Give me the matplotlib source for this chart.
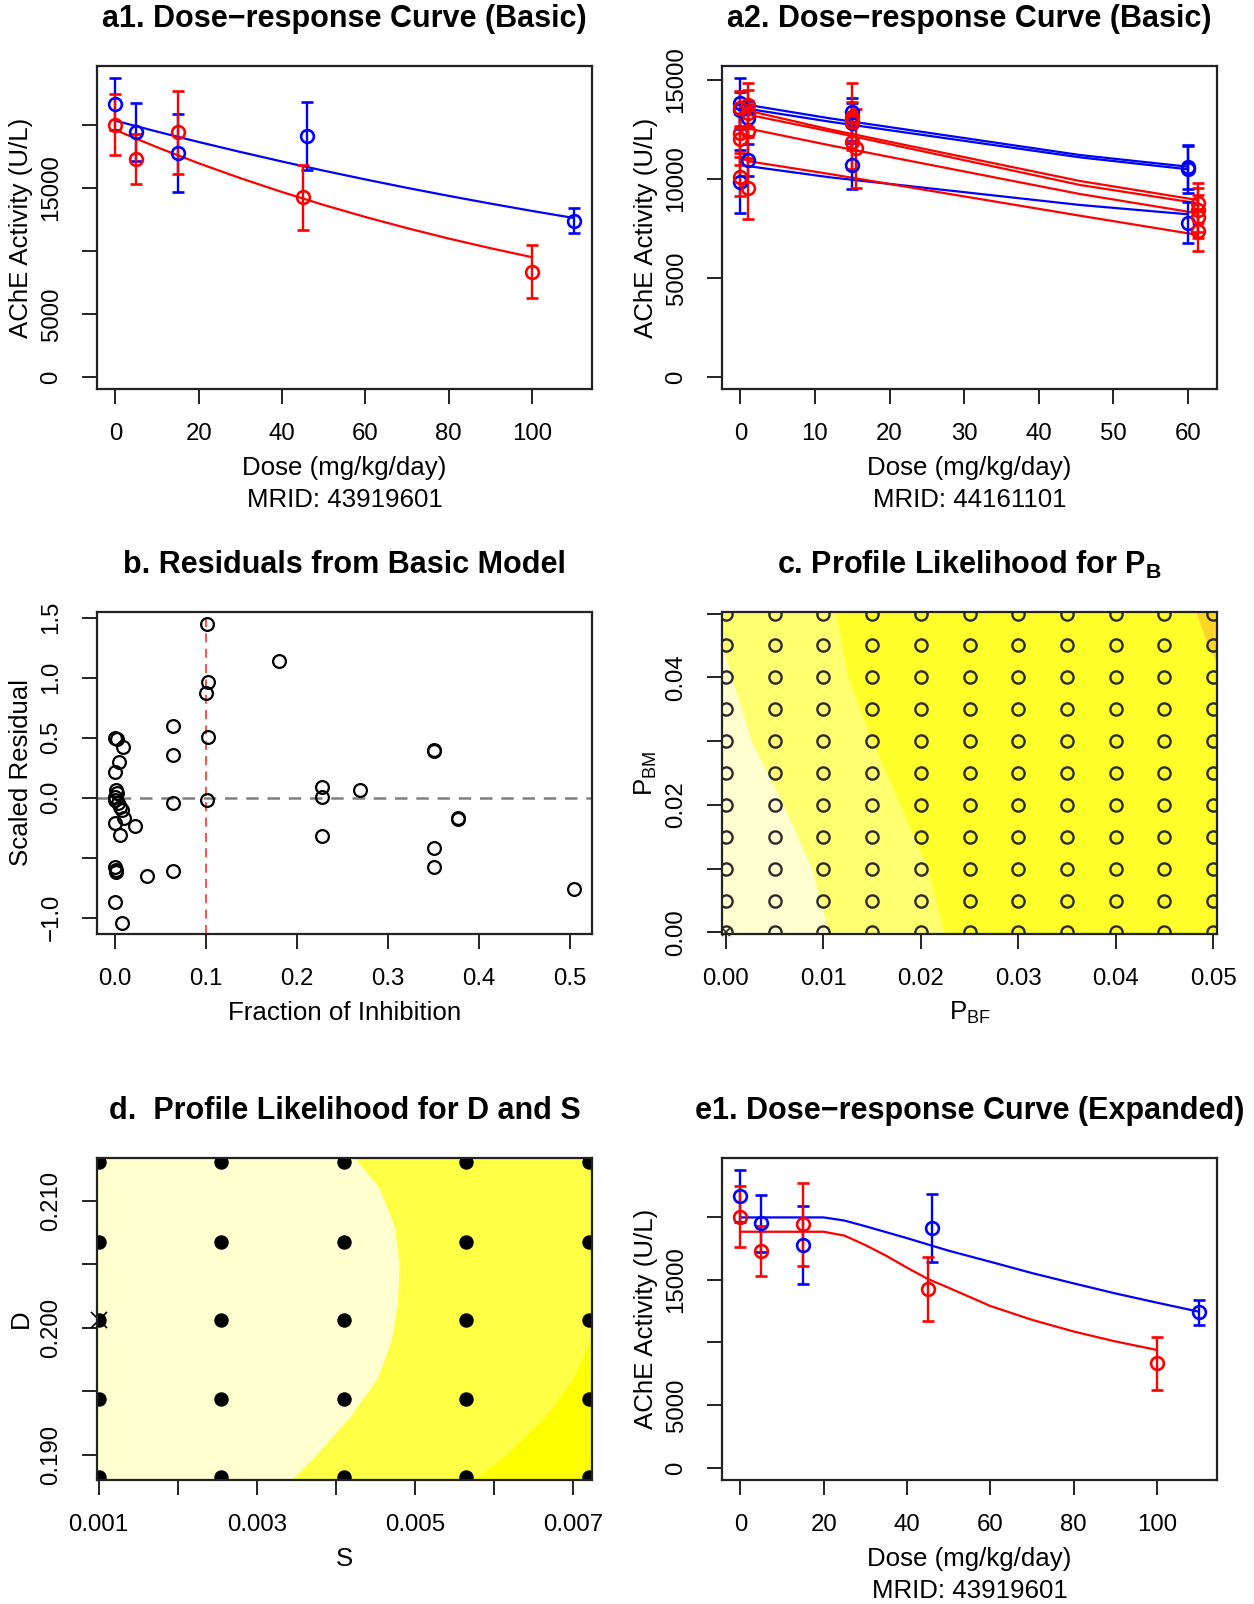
import numpy as np
import matplotlib
matplotlib.use('Agg')
import matplotlib.pyplot as plt

plt.rcParams['font.family'] = ['Liberation Sans', 'DejaVu Sans']
plt.rcParams['mathtext.fontset'] = 'custom'
plt.rcParams['mathtext.rm'] = 'Liberation Sans'
plt.rcParams['mathtext.bf'] = 'Liberation Sans:bold'

W, H = 1254, 1604
BASE = 17.3     # tick labels
LAB = 18.6      # axis labels
TITLE = 22.0
BLUE = '#0000ff'
RED = '#ff0000'
INK = '#222222'

# ---- a1 / e1: MRID 43919601 (blue = males, red = females)
a1_blue_dose = [0, 5, 15, 46, 110]
a1_blue_mean = [21640, 19470, 17750, 19130, 12400]
a1_blue_sd = [2060, 2300, 3100, 2700, 1000]
a1_red_dose = [0, 5, 15, 45, 100]
a1_red_mean = [20000, 17300, 19420, 14250, 8350]
a1_red_sd = [2420, 2000, 3300, 2550, 2100]

basic_blue_dose = [0, 10, 20, 30, 40, 50, 60, 70, 80, 90, 100, 110]
basic_blue_fit = [20340, 19475, 18650, 17860, 17100, 16375, 15680, 15010, 14375, 13765, 13180, 12620]
basic_red_dose = [0, 10, 20, 30, 40, 50, 60, 70, 80, 90, 100]
basic_red_fit = [19600, 18235, 16960, 15780, 14680, 13655, 12700, 11815, 10990, 10225, 9510]

exp_blue_dose = [0, 20, 25, 30, 40, 50, 60, 70, 80, 90, 100, 110]
exp_blue_fit = [19950, 19950, 19700, 19250, 18300, 17300, 16420, 15520, 14700, 13900, 13165, 12450]
exp_red_dose = [0, 20, 25, 30, 35, 40, 45, 50, 60, 70, 80, 90, 100]
exp_red_fit = [18810, 18810, 18500, 17750, 16900, 15950, 15050, 14350, 12900, 11800, 10870, 10080, 9400]

# ---- a2: MRID 44161101
a2_blue_dose = [[0, 1, 15, 60], [0, 15, 60], [0, 1, 15, 60]]
a2_blue_mean = [[13815, 13059, 13393, 10620], [13478, 12820, 10488], [9865, 10958, 10706, 7797]]
a2_blue_sd = [[1300, 900, 700, 1100], [900, 1000, 1200], [1600, 800, 1200, 1050]]
a2_blue_line_dose = [[0, 12, 45.5, 60], [0, 12, 45.5, 60], [1, 12, 45.5, 60]]
a2_blue_line_fit = [[13800, 13060, 11210, 10620], [13600, 12890, 11093, 10490], [10650, 10085, 8690, 8220]]

a2_red_dose = [[0, 1, 15, 61.3], [0, 1, 15, 61.3], [0, 1, 15, 61.3], [0, 1, 15.5, 61.3]]
a2_red_mean = [[13563, 13730, 13140, 8780], [12303, 13311, 12888, 8450],
               [12000, 12400, 11880, 8100], [10117, 9531, 11547, 7400]]
a2_red_sd = [[900, 1100, 1700, 1000], [1000, 1200, 1000, 1100],
             [1300, 1400, 1400, 1100], [1000, 1550, 2000, 1050]]
a2_red_line_dose = [[1, 12, 45.5, 61.3]] * 4
a2_red_line_fit = [[13450, 12500, 9900, 8940], [13250, 12400, 9700, 8775],
                   [12550, 11700, 9244, 8271], [10900, 10250, 8150, 7180]]

# ---- b: residuals
b_frac = [0.000, 0.002, 0.009, 0.005, 0.000, 0.0015, 0.002, 0.000, 0.000, 0.004, 0.006, 0.008,
          0.010, 0.000, 0.022, 0.006, 0.0007, 0.001, 0.001, 0.035, 0.0007, 0.008,
          0.0636, 0.0636, 0.0636, 0.0636,
          0.101, 0.102, 0.100, 0.102, 0.101,
          0.180, 0.228, 0.228, 0.228, 0.270, 0.351, 0.351, 0.351, 0.351, 0.377, 0.377, 0.505]
b_resid = [0.50, 0.487, 0.425, 0.30, 0.217, 0.064, 0.036, 0.008, -0.019, -0.047, -0.075, -0.10,
           -0.17, -0.214, -0.236, -0.31, -0.575, -0.60, -0.62, -0.65, -0.867, -1.04,
           0.597, 0.356, -0.047, -0.61,
           1.447, 0.967, 0.875, 0.508, -0.019,
           1.141, 0.089, 0.006, -0.316, 0.061, 0.393, 0.40, -0.416, -0.576, -0.175, -0.17, -0.759]

# ---- c: profile likelihood grid for P_BF, P_BM
c_pbf = [0.0, 0.005, 0.01, 0.015, 0.02, 0.025, 0.03, 0.035, 0.04, 0.045, 0.05]
c_pbm = [0.0, 0.005, 0.01, 0.015, 0.02, 0.025, 0.03, 0.035, 0.04, 0.045, 0.05]
c_edge1_y = [-0.0003, 0.01, 0.02, 0.03, 0.04, 0.046, 0.0505]
c_edge1_x = [0.0106, 0.0088, 0.0059, 0.0026, 0.0006, -0.0005, -0.0005]
c_edge2_y = [-0.0003, 0.01, 0.02, 0.03, 0.04, 0.0505]
c_edge2_x = [0.0224, 0.0207, 0.0179, 0.0150, 0.0125, 0.0112]
c_hot_x = [0.0482, 0.0505, 0.0505, 0.0496, 0.0490]
c_hot_y = [0.0505, 0.0505, 0.0421, 0.0445, 0.0470]

# ---- d: profile likelihood grid for S, D
d_s = [0.001, 0.00255, 0.0041, 0.00565, 0.0072]
d_d = [0.1882, 0.1944, 0.2006, 0.2068, 0.2131]
d_edge1_y = [0.1875, 0.1880, 0.1900, 0.1930, 0.1960, 0.1990, 0.2020, 0.2050, 0.2080, 0.2110, 0.2134, 0.2140]
d_edge1_x = [0.00344, 0.00344, 0.00375, 0.00418, 0.00452, 0.00470, 0.00478, 0.00480, 0.00474, 0.00455, 0.00424, 0.00424]
d_edge2_y = [0.1875, 0.1880, 0.1900, 0.1930, 0.1960, 0.1990, 0.2005]
d_edge2_x = [0.00570, 0.00575, 0.00615, 0.00665, 0.00700, 0.00722, 0.00730]


def place(left, top, right, bottom):
    return fig.add_axes([left / W, 1 - bottom / H, (right - left) / W, (bottom - top) / H])


def frame(ax, xt, xl, yt, yl, title, xlab, ylab, sub=None):
    for s in ax.spines.values():
        s.set_color(INK)
        s.set_linewidth(1.6)
    ax.set_xticks(xt)
    ax.set_xticklabels(xl, fontsize=BASE)
    ax.set_yticks(yt)
    ax.set_yticklabels(yl, fontsize=BASE, rotation=90, va='center')
    ax.tick_params(length=10.8, width=1.4, color=INK, pad=14)
    ax.annotate(title, xy=(0.5, 1), xycoords='axes fraction', xytext=(0, 47),
                textcoords='offset pixels', ha='center', va='center',
                fontsize=TITLE, fontweight='bold')
    ax.annotate(xlab, xy=(0.5, 0), xycoords='axes fraction', xytext=(0, -79),
                textcoords='offset pixels', ha='center', va='center', fontsize=LAB)
    ax.annotate(ylab, xy=(0, 0.5), xycoords='axes fraction', xytext=(-76.5, 0),
                textcoords='offset pixels', ha='center', va='center', fontsize=LAB,
                rotation=90)
    if sub:
        ax.annotate(sub, xy=(0.5, 0), xycoords='axes fraction', xytext=(0, -111),
                    textcoords='offset pixels', ha='center', va='center', fontsize=LAB)


def dose_points(ax, dose, mean, sd, color):
    ax.errorbar(dose, mean, yerr=sd, fmt='o', ms=9.2, mfc='none', mec=color, mew=1.9,
                ecolor=color, elinewidth=1.7, capsize=4.5, capthick=1.7)


fig = plt.figure(figsize=(W / 100, H / 100), dpi=100)

dose_xt = [0, 20, 40, 60, 80, 100]
act_yt = [0, 5000, 10000, 15000, 20000]
act_yl = ['0', '5000', '', '15000', '']

# a1
ax = place(97, 66, 592, 389)
ax.plot(basic_blue_dose, basic_blue_fit, color=BLUE, lw=1.6)
ax.plot(basic_red_dose, basic_red_fit, color=RED, lw=1.6)
dose_points(ax, a1_blue_dose, a1_blue_mean, a1_blue_sd, BLUE)
dose_points(ax, a1_red_dose, a1_red_mean, a1_red_sd, RED)
ax.set_xlim(-4.4, 114.4)
ax.set_ylim(-949, 24679)
frame(ax, dose_xt, [str(v) for v in dose_xt], act_yt, act_yl,
      'a1. Dose\u2212response Curve (Basic)', 'Dose (mg/kg/day)', 'AChE Activity (U/L)',
      'MRID: 43919601')

# a2
ax = place(722, 66, 1217, 389)
for xs, ys in zip(a2_blue_line_dose, a2_blue_line_fit):
    ax.plot(xs, ys, color=BLUE, lw=1.6)
for xs, ys in zip(a2_red_line_dose, a2_red_line_fit):
    ax.plot(xs, ys, color=RED, lw=1.6)
for xs, ys, es in zip(a2_blue_dose, a2_blue_mean, a2_blue_sd):
    dose_points(ax, xs, ys, es, BLUE)
for xs, ys, es in zip(a2_red_dose, a2_red_mean, a2_red_sd):
    dose_points(ax, xs, ys, es, RED)
ax.set_xlim(-2.46, 63.9)
ax.set_ylim(-595, 15700)
xt = [0, 10, 20, 30, 40, 50, 60]
frame(ax, xt, [str(v) for v in xt], [0, 5000, 10000, 15000], ['0', '5000', '10000', '15000'],
      'a2. Dose\u2212response Curve (Basic)', 'Dose (mg/kg/day)', 'AChE Activity (U/L)',
      'MRID: 44161101')

# b
ax = place(97, 612, 592, 934)
ax.axhline(0, color='#808080', lw=1.8, dashes=(5, 3.5))
ax.axvline(0.1, color='#ff4040', lw=1.3, dashes=(5, 3.5))
ax.plot(b_frac, b_resid, 'o', ms=9.2, mfc='none', mec='black', mew=1.6)
ax.set_xlim(-0.0195, 0.5245)
ax.set_ylim(-1.135, 1.548)
xt = [0.0, 0.1, 0.2, 0.3, 0.4, 0.5]
yt = [-1.0, -0.5, 0.0, 0.5, 1.0, 1.5]
frame(ax, xt, ['%.1f' % v for v in xt], yt, ['\u22121.0', '', '0.0', '0.5', '1.0', '1.5'],
      'b. Residuals from Basic Model', 'Fraction of Inhibition', 'Scaled Residual')

# c
ax = place(722, 612, 1217, 934)
ax.set_facecolor('#ffff2a')
ax.fill_betweenx(c_edge2_y, -0.001, c_edge2_x, color='#ffff70', lw=0)
ax.fill_betweenx(c_edge1_y, -0.001, c_edge1_x, color='#ffffd0', lw=0)
ax.fill(c_hot_x, c_hot_y, color='#ffd52a', lw=0)
gx, gy = np.meshgrid(c_pbf, c_pbm)
ax.plot(gx.ravel(), gy.ravel(), 'o', ms=8.8, mfc='none', mec='#2a2a2a', mew=1.7)
ax.plot([c_pbf[0]], [c_pbm[0]], 'x', ms=6, mec='#2a2a2a', mew=1.2, clip_on=False)
ax.set_xlim(-0.0004, 0.0504)
ax.set_ylim(-0.00025, 0.05025)
xt = [0.0, 0.01, 0.02, 0.03, 0.04, 0.05]
yt = [0.0, 0.01, 0.02, 0.03, 0.04, 0.05]
frame(ax, xt, ['%.2f' % v for v in xt], yt, ['0.00', '', '0.02', '', '0.04', ''],
      r'c. Profile Likelihood for $\mathbf{P_B}$', r'$\mathrm{P_{BF}}$', r'$\mathrm{P_{BM}}$')

# d
ax = place(97, 1158, 592, 1480)
ax.set_facecolor('#ffffd0')
ax.fill_betweenx(d_edge1_y, d_edge1_x, 0.008, color='#ffff45', lw=0)
ax.fill_betweenx(d_edge2_y, d_edge2_x, 0.008, color='#ffff00', lw=0)
gx, gy = np.meshgrid(d_s, d_d)
ax.plot(gx.ravel(), gy.ravel(), 'o', ms=9.4, color='black')
ax.plot([d_s[0]], [d_d[2]], 'x', ms=11, mec='black', mew=1.2, clip_on=False)
ax.set_xlim(0.00098, 0.00724)
ax.set_ylim(0.1880, 0.2134)
xt = [0.001, 0.002, 0.003, 0.004, 0.005, 0.006, 0.007]
yt = [0.190, 0.195, 0.200, 0.205, 0.210]
frame(ax, xt, ['0.001', '', '0.003', '', '0.005', '', '0.007'], yt,
      ['0.190', '', '0.200', '', '0.210'],
      'd.  Profile Likelihood for D and S', 'S', 'D')

# e1
ax = place(722, 1158, 1217, 1480)
ax.plot(exp_blue_dose, exp_blue_fit, color=BLUE, lw=1.6)
ax.plot(exp_red_dose, exp_red_fit, color=RED, lw=1.6)
dose_points(ax, a1_blue_dose, a1_blue_mean, a1_blue_sd, BLUE)
dose_points(ax, a1_red_dose, a1_red_mean, a1_red_sd, RED)
ax.set_xlim(-4.4, 114.4)
ax.set_ylim(-949, 24679)
frame(ax, dose_xt, [str(v) for v in dose_xt], act_yt, act_yl,
      'e1. Dose\u2212response Curve (Expanded)', 'Dose (mg/kg/day)', 'AChE Activity (U/L)',
      'MRID: 43919601')

fig.savefig('out.png', dpi=100)
